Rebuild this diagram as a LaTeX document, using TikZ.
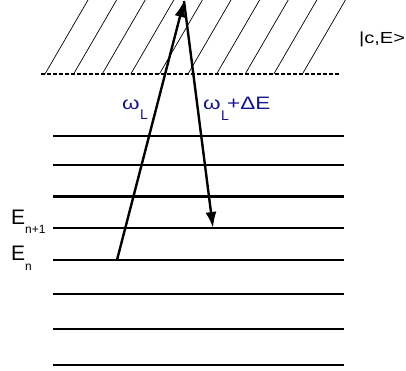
\documentclass[tikz,border=0pt]{standalone}
\usepackage{fontspec}
\setmainfont{Liberation Sans}
\usetikzlibrary{arrows.meta}
\definecolor{labelblue}{RGB}{20,20,140}

\begin{document}
\begin{tikzpicture}[x=1pt,y=-1pt,
    level/.style={line width=2.7pt},
    hatch/.style={line width=0.7pt},
    photon/.style={line width=2.4pt,-{Latex[length=16pt,width=11pt]}},
    big/.style={inner sep=0pt,anchor=base west,font=\fontsize{21}{21}\selectfont},
    small/.style={inner sep=0pt,anchor=base west,font=\fontsize{12}{12}\selectfont},
    blue/.style={inner sep=0pt,anchor=base west,text=labelblue,font=\fontsize{18}{18}\selectfont},
    bluesub/.style={inner sep=0pt,anchor=base west,text=labelblue,font=\fontsize{14}{14}\selectfont}]
    \useasboundingbox (0,0) rectangle (406,370);
    % continuum
    \foreach \k in {0,...,9} \draw[hatch] (45+28.6*\k,74) -- (88+28.6*\k,0);
    \draw[dash pattern=on 4pt off 2pt,line width=1.3pt] (41,74) -- (340,74);
    \node[inner sep=0pt,anchor=base west,font=\fontsize{16}{16}\selectfont] (cont) at (359,43) {\scalebox{1.25}[1]{|c,E>}};
    % bound levels
    \foreach \y in {136,165,196.5,228,260,294,329,365} \draw[level] (53,\y) -- (344,\y);
    \node[big] (E1) at (11,224) {E};
    \node[small] (E1sub) at (25,233) {n+1};
    \node[big] (E0) at (11,260) {E};
    \node[small] (E0sub) at (25,270) {n};
    % transitions
    \coordinate (start) at (117,260);
    \coordinate (top) at (184,1);
    \coordinate (end) at (213,228);
    \draw[photon] (start) -- (top);
    \draw[photon] (top) -- (end);
    \node[blue] (wL) at (122,109) {\scalebox{1.25}[1]{ω}};
    \node[bluesub] (wLsub) at (140,119) {L};
    \node[blue] (wR) at (203,109) {\scalebox{1.25}[1]{ω}};
    \node[bluesub] (wRsub) at (221,120) {L};
    \node[blue] (dE) at (227,109) {\scalebox{1.25}[1]{+ΔE}};
\end{tikzpicture}
\end{document}
